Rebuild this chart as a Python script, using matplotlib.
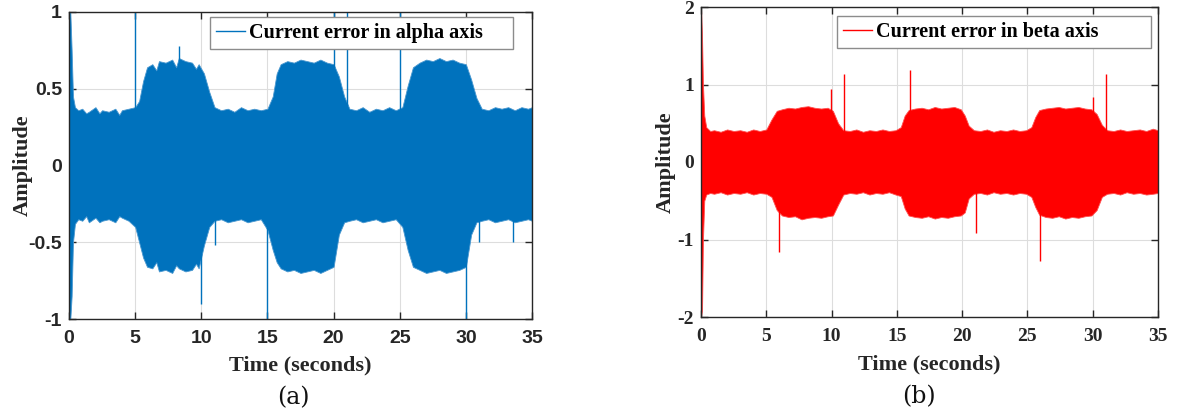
import matplotlib
matplotlib.use("Agg")
import matplotlib.pyplot as plt

# ---------------- data ----------------
# alpha-axis current error: envelope of the dense oscillation
t_alpha = [0, 0.1, 0.2, 0.3, 0.45, 0.7, 1.0, 1.3, 1.5, 2.0, 2.3, 2.5, 3.0, 3.5, 3.8, 4.0, 4.5,
           5.0, 5.3, 5.6, 5.9, 6.3, 6.6, 6.8, 7.3, 7.8, 8.1, 8.3, 8.8, 9.3, 9.6, 9.8, 10.2,
           10.6, 11.0, 11.5, 12.0, 12.5, 13.0, 13.5, 14.0, 14.5, 15.0, 15.4,
           15.7, 16.0, 16.5, 17.0, 17.5, 18.0, 18.5, 19.0, 19.5, 20.0, 20.4,
           20.8, 21.2, 21.7, 22.2, 22.7, 23.2, 23.7, 24.2, 24.7, 25.2, 25.6,
           26.0, 26.5, 27.0, 27.5, 28.0, 28.5, 29.0, 29.5, 30.0, 30.4, 30.8,
           31.2, 31.7, 32.2, 32.7, 33.2, 33.7, 34.2, 34.7, 35.0]
alpha_upper = [1.0, 1.0, 0.75, 0.45, 0.38, 0.36, 0.37, 0.34, 0.35, 0.38, 0.34, 0.36, 0.35,
               0.37, 0.33, 0.36, 0.37, 0.38, 0.42, 0.55, 0.64, 0.66, 0.62, 0.68, 0.67, 0.69,
               0.64, 0.70, 0.68, 0.67, 0.63, 0.66, 0.60, 0.48, 0.38, 0.36, 0.37, 0.35, 0.38,
               0.36, 0.37, 0.36, 0.37, 0.45, 0.60, 0.66, 0.68, 0.67, 0.69, 0.68,
               0.67, 0.69, 0.67, 0.66, 0.58, 0.45, 0.37, 0.36, 0.38, 0.35, 0.37,
               0.36, 0.38, 0.36, 0.38, 0.52, 0.64, 0.67, 0.69, 0.68, 0.70, 0.68,
               0.69, 0.67, 0.66, 0.56, 0.44, 0.37, 0.36, 0.38, 0.37, 0.38, 0.36,
               0.38, 0.37, 0.38]
alpha_lower = [-1.0, -1.0, -0.85, -0.50, -0.38, -0.35, -0.36, -0.33, -0.37, -0.34,
               -0.37, -0.36, -0.35, -0.37, -0.33, -0.34, -0.36, -0.40, -0.50, -0.60, -0.66,
               -0.67, -0.63, -0.69, -0.68, -0.70, -0.65, -0.67, -0.69, -0.68, -0.64, -0.67, -0.52,
               -0.40, -0.36, -0.35, -0.37, -0.36, -0.35, -0.37, -0.36, -0.35,
               -0.42, -0.55, -0.63, -0.67, -0.69, -0.68, -0.70, -0.69, -0.68,
               -0.70, -0.68, -0.66, -0.45, -0.37, -0.36, -0.35, -0.37, -0.36,
               -0.35, -0.37, -0.36, -0.35, -0.40, -0.55, -0.66, -0.68, -0.70,
               -0.69, -0.68, -0.70, -0.69, -0.68, -0.66, -0.45, -0.37, -0.36,
               -0.35, -0.37, -0.36, -0.35, -0.37, -0.36, -0.35, -0.36]
alpha_spike_t = [5.0, 8.3, 10.0, 11.0, 15.0, 20.0, 21.0, 25.0, 30.0, 31.0, 33.6]
alpha_spike_v = [1.0, 0.78, -0.90, -0.52, -1.0, 1.0, 1.0, 1.0, -1.0, -0.50, -0.50]

# beta-axis current error
t_beta = [0, 0.08, 0.15, 0.25, 0.4, 0.7, 1.0, 1.5, 2.0, 2.5, 3.0, 3.5, 4.0,
          4.5, 5.0, 5.4, 5.8, 6.2, 6.7, 7.2, 7.7, 8.2, 8.7, 9.2, 9.7, 10.1,
          10.5, 10.9, 11.4, 11.9, 12.4, 12.9, 13.4, 13.9, 14.4, 14.9, 15.3,
          15.6, 15.9, 16.4, 16.9, 17.4, 17.9, 18.4, 18.9, 19.4, 19.9, 20.2,
          20.5, 20.9, 21.4, 21.9, 22.4, 22.9, 23.4, 23.9, 24.4, 24.9, 25.3,
          25.6, 25.9, 26.4, 26.9, 27.4, 27.9, 28.4, 28.9, 29.4, 29.9, 30.3,
          30.7, 31.1, 31.6, 32.1, 32.6, 33.1, 33.6, 34.1, 34.6, 35.0]
beta_upper = [2.0, 1.6, 1.0, 0.6, 0.45, 0.40, 0.41, 0.39, 0.42, 0.40, 0.41,
              0.39, 0.42, 0.40, 0.42, 0.55, 0.66, 0.68, 0.70, 0.69, 0.71, 0.72,
              0.70, 0.69, 0.70, 0.66, 0.50, 0.41, 0.40, 0.42, 0.39, 0.41, 0.40,
              0.42, 0.40, 0.41, 0.45, 0.60, 0.67, 0.69, 0.70, 0.68, 0.71, 0.69,
              0.70, 0.71, 0.68, 0.60, 0.47, 0.41, 0.40, 0.42, 0.39, 0.41, 0.40,
              0.42, 0.40, 0.41, 0.45, 0.58, 0.67, 0.69, 0.70, 0.71, 0.69, 0.70,
              0.71, 0.69, 0.68, 0.62, 0.48, 0.41, 0.40, 0.42, 0.40, 0.41, 0.42,
              0.40, 0.43, 0.41]
beta_lower = [-2.0, -1.9, -1.0, -0.5, -0.42, -0.40, -0.41, -0.39, -0.42,
              -0.40, -0.41, -0.39, -0.42, -0.40, -0.41, -0.45, -0.62, -0.69,
              -0.71, -0.70, -0.74, -0.72, -0.71, -0.72, -0.70, -0.69, -0.55,
              -0.42, -0.40, -0.41, -0.39, -0.42, -0.40, -0.41, -0.39, -0.42,
              -0.44, -0.60, -0.69, -0.71, -0.72, -0.70, -0.73, -0.71, -0.72,
              -0.70, -0.69, -0.65, -0.47, -0.41, -0.40, -0.42, -0.39, -0.41,
              -0.40, -0.42, -0.40, -0.41, -0.45, -0.58, -0.68, -0.71, -0.72,
              -0.70, -0.73, -0.71, -0.72, -0.70, -0.69, -0.62, -0.45, -0.41,
              -0.40, -0.42, -0.39, -0.41, -0.40, -0.42, -0.41, -0.40]
beta_spike_t = [5.97, 9.95, 10.95, 16.0, 21.05, 26.0, 30.0, 31.0]
beta_spike_v = [-1.16, 0.94, 1.13, 1.19, -0.92, -1.28, 0.84, 1.13]

x_ticks = [0, 5, 10, 15, 20, 25, 30, 35]
alpha_yticks = [-1, -0.5, 0, 0.5, 1]
alpha_ylabels = ["-1", "-0.5", "0", "0.5", "1"]
beta_yticks = [-2, -1, 0, 1, 2]
beta_ylabels = ["-2", "-1", "0", "1", "2"]

# ---------------- figure ----------------
fig = plt.figure(figsize=(11.79, 4.16), dpi=100)
serif = "Liberation Serif"
sans = "Liberation Sans"
axcol = "#262626"

def style(ax, yt, yl, ylim, tickfont, tsize, xpad, ypad):
    ax.set_xlim(0, 35)
    ax.set_ylim(*ylim)
    ax.set_xticks(x_ticks)
    ax.set_xticklabels([str(v) for v in x_ticks], fontfamily=tickfont,
                       fontweight="bold", fontsize=tsize, color=axcol)
    ax.set_yticks(yt)
    ax.set_yticklabels(yl, fontfamily=tickfont, fontweight="bold",
                       fontsize=tsize, color=axcol)
    ax.tick_params(direction="in", top=True, right=True, length=5,
                   width=1, color=axcol)
    ax.tick_params(axis="x", pad=8)
    ax.tick_params(axis="y", pad=5)
    ax.grid(True, color="#dddddd", linewidth=0.8)
    ax.set_axisbelow(True)
    for s in ax.spines.values():
        s.set_color(axcol)
        s.set_linewidth(1.0)
    ax.set_xlabel("Time (seconds)", fontfamily=serif, fontweight="bold",
                  fontsize=16, color=axcol, labelpad=xpad)
    ax.set_ylabel("Amplitude", fontfamily=serif, fontweight="bold",
                  fontsize=16, color=axcol, labelpad=ypad)

def legend(ax, h, x0, x1, ytop):
    leg = ax.legend(handles=[h], loc="upper left",
                    bbox_to_anchor=(x0, ytop - 0.1, x1 - x0, 0.1),
                    mode="expand", borderaxespad=0,
                    prop={"family": serif, "weight": "bold", "size": 14.5},
                    fancybox=False, framealpha=1, edgecolor="#8c8c8c",
                    handlelength=1.45, handletextpad=0.2, borderpad=0.3)
    leg.get_frame().set_linewidth(1.0)
    return leg

# (a) alpha
ax1 = fig.add_axes([69/1179, 1-319/416, 463/1179, 307/416])
blue = "#0072BD"
ax1.fill_between(t_alpha, alpha_lower, alpha_upper, color=blue, linewidth=0.6,
                 edgecolor="#4a98d0", zorder=2)
ax1.vlines(alpha_spike_t, 0, alpha_spike_v, color=blue, linewidth=1.0, zorder=2)
h1, = ax1.plot([], [], color=blue, linewidth=1.0,
               label="Current error in alpha axis")
style(ax1, alpha_yticks, alpha_ylabels, (-1, 1), sans, 14, xpad=6, ypad=-3)
legend(ax1, h1, (210-69)/463, (513-69)/463, (319-17)/307)
fig.text(293/1179, 1-398/416, "(a)", fontfamily="DejaVu Serif", fontsize=17,
         ha="center", va="center", color="#111111")

# (b) beta
ax2 = fig.add_axes([701/1179, 1-317/416, 457/1179, 310/416])
red = "#FF0000"
ax2.fill_between(t_beta, beta_lower, beta_upper, color=red, linewidth=0.6,
                 edgecolor="#ff5050", zorder=2)
ax2.vlines(beta_spike_t, 0, beta_spike_v, color=red, linewidth=1.0, zorder=2)
h2, = ax2.plot([], [], color=red, linewidth=1.0,
               label="Current error in beta axis")
style(ax2, beta_yticks, beta_ylabels, (-2, 2), serif, 14, xpad=7, ypad=1)
legend(ax2, h2, (837-701)/457, (1151-701)/457, (317-16)/310)
fig.text(919/1179, 1-397/416, "(b)", fontfamily="DejaVu Serif", fontsize=17,
         ha="center", va="center", color="#111111")

fig.savefig("out.png", dpi=100)
